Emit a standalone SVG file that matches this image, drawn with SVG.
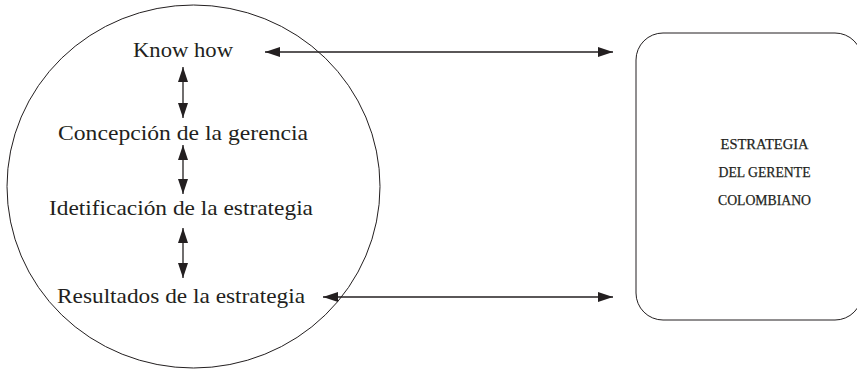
<svg xmlns="http://www.w3.org/2000/svg" width="857" height="370" viewBox="0 0 857 370">
<style>
.t{font-family:"Liberation Serif","Times New Roman",serif;font-size:22px;fill:#231f20;text-anchor:middle}
.c{font-family:"Liberation Serif","Times New Roman",serif;font-size:15px;fill:#231f20;stroke:#231f20;stroke-width:0.25;text-anchor:middle}
.shape{fill:none;stroke:#231f20;stroke-width:1}
.conn{fill:none;stroke:#231f20;stroke-width:1.3;marker-start:url(#ah);marker-end:url(#ah)}
</style>
<defs>
<marker id="ah" viewBox="0 0 15 10" refX="15" refY="5" markerWidth="15" markerHeight="10" markerUnits="userSpaceOnUse" orient="auto-start-reverse">
<path d="M0,0 L15,5 L0,10 Z" fill="#231f20"/>
</marker>
</defs>
<rect width="857" height="370" fill="#fff"/>
<g id="circle-node">
<ellipse class="shape" cx="193.5" cy="186.5" rx="186.5" ry="181.5"/>
</g>
<g id="know-how"><text class="t" x="183" y="57" textLength="100" lengthAdjust="spacingAndGlyphs">Know how</text></g>
<g id="concepcion"><text class="t" x="183" y="140" textLength="250" lengthAdjust="spacingAndGlyphs">Concepción de la gerencia</text></g>
<g id="identificacion"><text class="t" x="181" y="215" textLength="264" lengthAdjust="spacingAndGlyphs">Idetificación de la estrategia</text></g>
<g id="resultados"><text class="t" x="181" y="303" textLength="248" lengthAdjust="spacingAndGlyphs">Resultados de la estrategia</text></g>
<g id="estrategia-box">
<rect class="shape" x="636" y="33" width="226" height="287" rx="27" ry="27"/>
<text class="c" x="764.5" y="149" textLength="88" lengthAdjust="spacingAndGlyphs">ESTRATEGIA</text>
<text class="c" x="764.5" y="177" textLength="92" lengthAdjust="spacingAndGlyphs">DEL GERENTE</text>
<text class="c" x="764.5" y="205" textLength="93" lengthAdjust="spacingAndGlyphs">COLOMBIANO</text>
</g>
<g id="connectors">
<line class="conn" x1="183" y1="67" x2="183" y2="118"/>
<line class="conn" x1="183" y1="145" x2="183" y2="194"/>
<line class="conn" x1="183" y1="228" x2="183" y2="278"/>
<line class="conn" x1="265" y1="52" x2="613" y2="52"/>
<line class="conn" x1="323" y1="297" x2="613" y2="297"/>
</g>
</svg>
